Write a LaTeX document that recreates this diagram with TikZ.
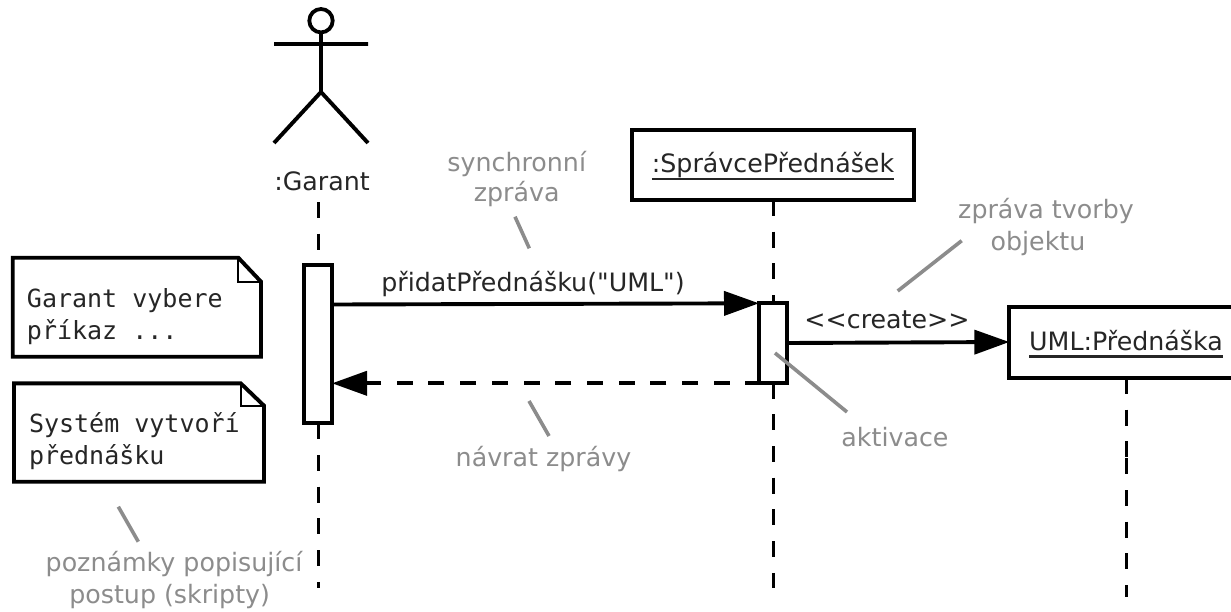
\documentclass[tikz,border=0pt]{standalone}
\usepackage{fontspec}
\setmainfont{DejaVu Sans}
\setmonofont{DejaVu Sans Mono}
\newfontfamily\plainf{DejaVu Sans}
\usetikzlibrary{arrows.meta}
\definecolor{leader}{HTML}{8C8C8C}
\definecolor{greytext}{HTML}{8C8C8C}
\newcommand{\ulin}[1]{\setbox0=\hbox{#1}\rlap{\vrule width\wd0 height -5.3pt depth 7.5pt}\box0}
\tikzset{
  every node/.style={outer sep=0pt},
  lbl/.style={inner sep=0pt,anchor=base,font=\fontsize{25.3}{31}\selectfont,text=black!85},
  greylbl/.style={inner sep=0pt,anchor=base,align=center,font=\fontsize{25.3}{31.7}\selectfont,text=greytext},
  notetxt/.style={inner sep=0pt,anchor=base west,align=left,font=\fontsize{25}{31.5}\selectfont\ttfamily,text=black!85},
  boxed/.style={draw=black,line width=3.9pt,fill=white,inner sep=0pt,anchor=north west},
  life/.style={line width=3pt,dash pattern=on 16pt off 15.7pt},
  leaderline/.style={draw=leader,line width=3.6pt},
  msg/.style={line width=3.9pt,-{Triangle[length=35pt,width=24pt]}},
  figure/.style={line width=3.9pt},
  notepath/.style={line width=3.9pt,fill=white,line join=miter},
  fold/.style={line width=2.2pt}
}
\begin{document}
\begin{tikzpicture}[x=1pt,y=-1pt]
\useasboundingbox (0,0) rectangle (1231,611);
\clip (0,0) rectangle (1231,611);
\fill[white] (0,0) rectangle (1231,611);

% actor
\node[circle,draw,line width=3.8pt,minimum size=23.4pt,inner sep=0pt] (head) at (321,20.7) {};
\coordinate (hip) at (321,92);
\coordinate (armL) at (274,44);
\coordinate (armR) at (368,44);
\coordinate (legL) at (274,143);
\coordinate (legR) at (368,143);
\draw[figure] (head.south) -- (hip) (armL) -- (armR) (legL) -- (hip) -- (legR);
\node[lbl] (garant) at (322,190) {:Garant};

% objects and activations
\node[boxed,minimum width=282.3pt,minimum height=70pt] (spravce) at (631.7,130) {};
\node[lbl] (spravcetxt) at (773,172.7) {\ulin{:SprávcePřednášek}};
\node[boxed,minimum width=240pt,minimum height=71pt] (uml) at (1009.3,306.7) {};
\node[lbl] (umltxt) at (1126,350) {\ulin{UML:Přednáška}};

% lifeline ends
\coordinate (g1) at (318,202);
\coordinate (g2) at (318,264);
\coordinate (g3) at (318,423.3);
\coordinate (g4) at (318,588);
\coordinate (s1) at (773.3,200);
\coordinate (s2) at (773.3,303);
\coordinate (s3) at (773.3,382.6);
\coordinate (s4) at (773.3,588);
\coordinate (u1) at (1126,378);
\coordinate (u2) at (1126,457);
\coordinate (u3) at (1126,458.3);
\coordinate (u4) at (1126,596.7);
\draw[life] (g1) -- (g2);
\draw[life] (g3) -- (g4);
\draw[life] (s1) -- (s2);
\draw[life] (s3) -- (s4);
\draw[life] (u1) -- (u2);
\draw[life] (u3) -- (u4);

\node[boxed,minimum width=28.3pt,minimum height=158.3pt] (a1) at (303.7,265) {};
\node[boxed,minimum width=27.7pt,minimum height=80pt] (a2) at (759,303.3) {};

% messages
\coordinate (m1s) at (a1.east |- 0,304.5);
\coordinate (m1e) at (a2.west |- 0,303.3);
\draw[msg] (m1s) -- (m1e);
\node[lbl] (m1) at (533,291.7) {\plainf přidatPřednášku("UML")};
\coordinate (m2s) at (a2.east |- 0,343);
\coordinate (m2e) at (uml.west |- 0,342);
\draw[msg] (m2s) -- (m2e);
\node[lbl] (m2) at (887,328) {<{}<create>{}>};
\coordinate (m3s) at (a2.west |- 0,383.3);
\coordinate (m3e) at (a1.east |- 0,383.3);
\draw[msg,dash pattern=on 16pt off 15.7pt,dash phase=2.4pt] (m3s) -- (m3e);

% notes
\coordinate (n1a) at (12.7,257.7);
\coordinate (n1b) at (238.3,257.7);
\coordinate (n1c) at (261,281.7);
\coordinate (n1d) at (261,356.7);
\coordinate (n1e) at (12.7,356.7);
\coordinate (n1f) at (238.3,281.7);
\draw[notepath] (n1a) -- (n1b) -- (n1c) -- (n1d) -- (n1e) -- cycle;
\draw[fold] (n1b) -- (n1f) -- (n1c);
\node[notetxt] (n1t) at (27,339) {Garant vybere\\příkaz ...};
\coordinate (n2a) at (14,383.3);
\coordinate (n2b) at (240.7,383.3);
\coordinate (n2c) at (264,405.7);
\coordinate (n2d) at (264,481.7);
\coordinate (n2e) at (14,481.7);
\coordinate (n2f) at (240.7,405.7);
\draw[notepath] (n2a) -- (n2b) -- (n2c) -- (n2d) -- (n2e) -- cycle;
\draw[fold] (n2b) -- (n2f) -- (n2c);
\node[notetxt] (n2t) at (29,464) {Systém vytvoří\\přednášku};

% grey annotations
\node[greylbl] (t1) at (516.7,201.7) {synchronní\\[-1.7pt]zpráva};
\node[greylbl] (t2) at (543.5,466) {návrat zprávy};
\node[greylbl] (t3) at (895,446) {aktivace};
\node[greylbl] (t4) at (1046,250) {zpráva tvorby\\objektu\hspace*{16pt}};
\node[greylbl] (t5) at (174,603.3) {poznámky popisující\\postup (skripty)\hspace*{8.6pt}};
\coordinate (l1a) at (515,216.7); \coordinate (l1b) at (529.3,248.3);
\coordinate (l2a) at (529,401); \coordinate (l2b) at (549,436);
\coordinate (l3a) at (775,353); \coordinate (l3b) at (847,412);
\coordinate (l4a) at (897.7,291); \coordinate (l4b) at (961.7,240.7);
\coordinate (l5a) at (118.3,506.7); \coordinate (l5b) at (138.3,541.7);
\draw[leaderline] (l1a) -- (l1b);
\draw[leaderline] (l2a) -- (l2b);
\draw[leaderline] (l3a) -- (l3b);
\draw[leaderline] (l4a) -- (l4b);
\draw[leaderline] (l5a) -- (l5b);
\end{tikzpicture}
\end{document}
